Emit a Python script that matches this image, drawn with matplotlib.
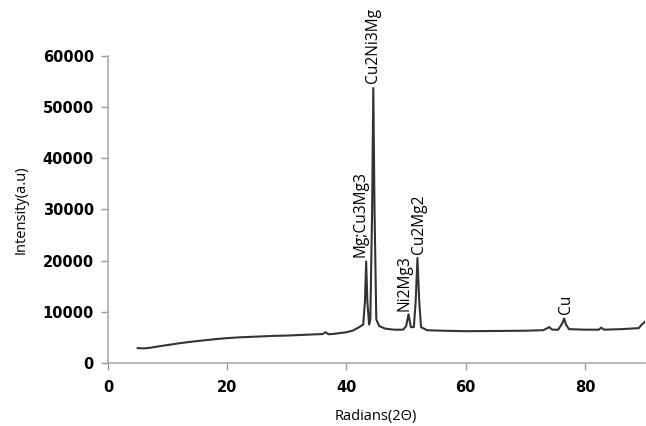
import matplotlib
matplotlib.use("Agg")
import matplotlib.pyplot as plt

two_theta = [5, 6, 7, 8, 10, 12, 14, 16, 18, 20, 22, 24, 26, 28, 30, 32, 34, 36,
             36.5, 37, 38, 40, 41, 42, 42.8, 43.1, 43.3, 43.5, 43.8, 44.0, 44.3,
             44.5, 44.7, 45.0, 45.5, 46.5, 48, 49.5, 50.0, 50.4, 50.8, 51.3, 51.6,
             51.9, 52.2, 52.5, 53.5, 56, 60, 65, 70, 73, 74, 74.5, 75.5, 76.2,
             76.5, 76.8, 77.3, 80, 82.3, 82.7, 83.2, 86, 89, 89.5, 90]
intensity = [2900, 2850, 2950, 3150, 3500, 3850, 4150, 4400, 4650, 4850, 5000,
             5100, 5200, 5300, 5350, 5450, 5550, 5650, 6000, 5600, 5700, 6000,
             6300, 6900, 7500, 12000, 19800, 12000, 7500, 8500, 30000, 53700,
             30000, 8500, 7200, 6700, 6500, 6500, 7200, 9500, 7000, 7000, 12000,
             20500, 12000, 7000, 6400, 6300, 6200, 6250, 6300, 6400, 7000, 6500,
             6500, 7800, 8700, 7500, 6600, 6500, 6500, 6900, 6500, 6600, 6800,
             7500, 8000]

peak_labels = ["Mg;Cu3Mg3", "Cu2Ni3Mg", "Ni2Mg3", "Cu2Mg2", "Cu"]
peak_x = [43.3, 44.5, 50.4, 51.9, 76.5]
peak_y = [19800, 53700, 9500, 20500, 8700]

x_ticks = [0, 20, 40, 60, 80]
y_ticks = [0, 10000, 20000, 30000, 40000, 50000, 60000]

plt.rcParams['font.family'] = ['Open Sans', 'DejaVu Sans']

fig = plt.figure(figsize=(6.46, 4.26), dpi=100)
ax = fig.add_axes([0.167, 0.148, 0.831, 0.721])
ax.plot(two_theta, intensity, color='#333333', lw=1.5)

ax.set_xlim(0, 90)
ax.set_ylim(0, 60000)
ax.set_xticks(x_ticks)
ax.set_yticks(y_ticks)
ax.tick_params(axis='both', colors='#999999', labelcolor='black',
               length=5, width=1, direction='out')
ax.tick_params(axis='y', pad=5)
ax.tick_params(axis='x', pad=7)
for lbl in ax.get_xticklabels() + ax.get_yticklabels():
    lbl.set_fontfamily('DejaVu Sans')
    lbl.set_fontweight('bold')
    lbl.set_fontsize(10.5)
for s in ['top', 'right']:
    ax.spines[s].set_visible(False)
for s in ['left', 'bottom']:
    ax.spines[s].set_color('#aaaaaa')
    ax.spines[s].set_linewidth(1.2)

ax.set_xlabel("Radians(2Θ)", fontsize=10.5, labelpad=10)
ax.set_ylabel("Intensity(a.u)", fontsize=10.5, labelpad=10)

offsets = [(-0.9, 800), (0.0, 1000), (-0.6, 700), (0.2, 700), (0.3, 800)]
for lab, px, py, (dx, dy) in zip(peak_labels, peak_x, peak_y, offsets):
    ax.text(px + dx, py + dy, lab, rotation=90, ha='center', va='bottom',
            fontsize=11.2, clip_on=False)

fig.savefig("out.png", dpi=100)
